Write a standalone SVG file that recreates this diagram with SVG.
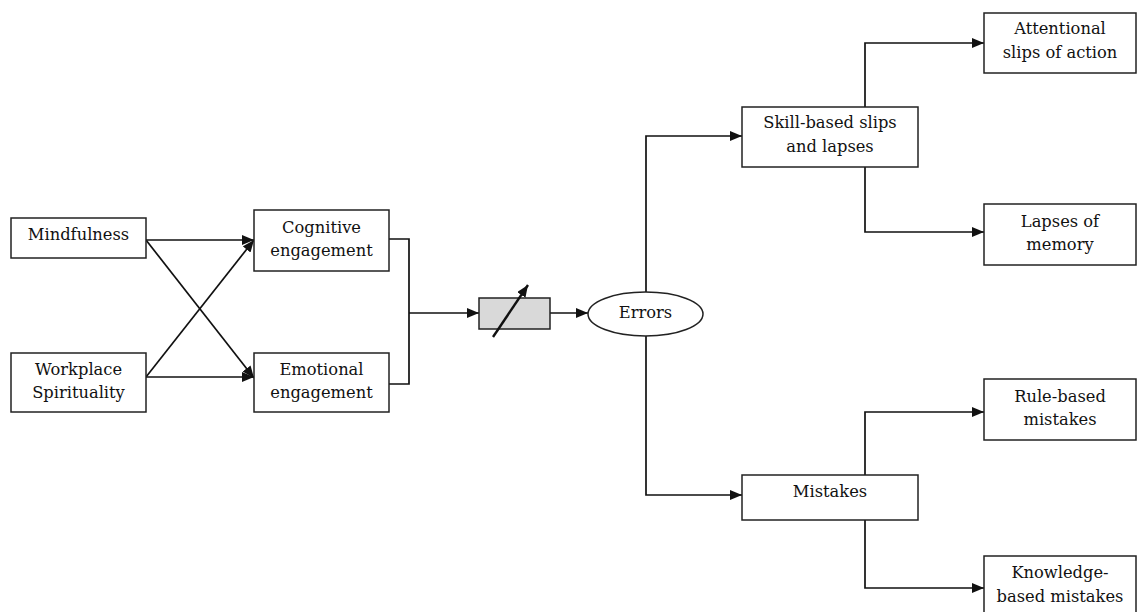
<svg xmlns="http://www.w3.org/2000/svg" width="1137" height="612" viewBox="0 0 1137 612">
  <defs>
    <style>
      .box { fill: #ffffff; stroke: #222222; stroke-width: 1.5; }
      .mod { fill: #d9d9d9; stroke: #222222; stroke-width: 1.5; }
      .lbl { font-family: "DejaVu Serif", "Liberation Serif", serif; font-size: 16.3px; fill: #111111; text-anchor: middle; }
      .wire { fill: none; stroke: #111111; stroke-width: 1.7; }
      .arr { marker-end: url(#head); }
    </style>
    <marker id="head" viewBox="0 0 12 10" refX="12" refY="5" markerWidth="12" markerHeight="10" markerUnits="userSpaceOnUse" orient="auto">
      <path d="M0,0 L12,5 L0,10 Z" fill="#111111"/>
    </marker>
  </defs>
  <rect width="1137" height="612" fill="#ffffff"/>

  <!-- connectors -->
  <g id="connectors">
    <line class="wire arr" x1="146" y1="240" x2="254" y2="240"/>
    <line class="wire arr" x1="146" y1="240" x2="254" y2="378"/>
    <line class="wire arr" x1="146" y1="377" x2="254" y2="240"/>
    <line class="wire arr" x1="146" y1="377" x2="254" y2="377"/>
    <polyline class="wire" points="389,239 409,239 409,384 389,384"/>
    <line class="wire arr" x1="409" y1="313" x2="479" y2="313"/>
    <line class="wire arr" x1="550" y1="313" x2="588" y2="313"/>
    <polyline class="wire arr" points="646,292 646,136 742,136"/>
    <polyline class="wire arr" points="646,336 646,495 742,495"/>
    <polyline class="wire arr" points="865,107 865,43 984,43"/>
    <polyline class="wire arr" points="865,167 865,232 984,232"/>
    <polyline class="wire arr" points="865,475 865,412 984,412"/>
    <polyline class="wire arr" points="865,520 865,588 984,588"/>
  </g>

  <g id="mindfulness">
    <rect class="box" x="11" y="218" width="135" height="40"/>
    <text class="lbl" x="78.5" y="240">Mindfulness</text>
  </g>
  <g id="workplace-spirituality">
    <rect class="box" x="11" y="353" width="135" height="59"/>
    <text class="lbl" x="78.5" y="375">Workplace</text>
    <text class="lbl" x="78.5" y="398">Spirituality</text>
  </g>
  <g id="cognitive-engagement">
    <rect class="box" x="254" y="210" width="135" height="61"/>
    <text class="lbl" x="321.5" y="233">Cognitive</text>
    <text class="lbl" x="321.5" y="256">engagement</text>
  </g>
  <g id="emotional-engagement">
    <rect class="box" x="254" y="353" width="135" height="59"/>
    <text class="lbl" x="321.5" y="375">Emotional</text>
    <text class="lbl" x="321.5" y="398">engagement</text>
  </g>
  <g id="moderator">
    <rect class="mod" x="479" y="298" width="71" height="31"/>
    <line class="wire arr" x1="493" y1="337" x2="528" y2="285" style="stroke-width:2.4"/>
  </g>
  <g id="errors">
    <ellipse class="box" cx="645.5" cy="314" rx="57.5" ry="22"/>
    <text class="lbl" x="645.5" y="318">Errors</text>
  </g>
  <g id="skill-based">
    <rect class="box" x="742" y="107" width="176" height="60"/>
    <text class="lbl" x="830" y="128">Skill-based slips</text>
    <text class="lbl" x="830" y="152">and lapses</text>
  </g>
  <g id="mistakes">
    <rect class="box" x="742" y="475" width="176" height="45"/>
    <text class="lbl" x="830" y="497">Mistakes</text>
  </g>
  <g id="attentional-slips">
    <rect class="box" x="984" y="13" width="152" height="60"/>
    <text class="lbl" x="1060" y="34">Attentional</text>
    <text class="lbl" x="1060" y="58">slips of action</text>
  </g>
  <g id="lapses-of-memory">
    <rect class="box" x="984" y="204" width="152" height="61"/>
    <text class="lbl" x="1060" y="227">Lapses of</text>
    <text class="lbl" x="1060" y="250">memory</text>
  </g>
  <g id="rule-based">
    <rect class="box" x="984" y="379" width="152" height="61"/>
    <text class="lbl" x="1060" y="402">Rule-based</text>
    <text class="lbl" x="1060" y="425">mistakes</text>
  </g>
  <g id="knowledge-based">
    <rect class="box" x="984" y="556" width="152" height="62"/>
    <text class="lbl" x="1060" y="578">Knowledge-</text>
    <text class="lbl" x="1060" y="602">based mistakes</text>
  </g>
</svg>
